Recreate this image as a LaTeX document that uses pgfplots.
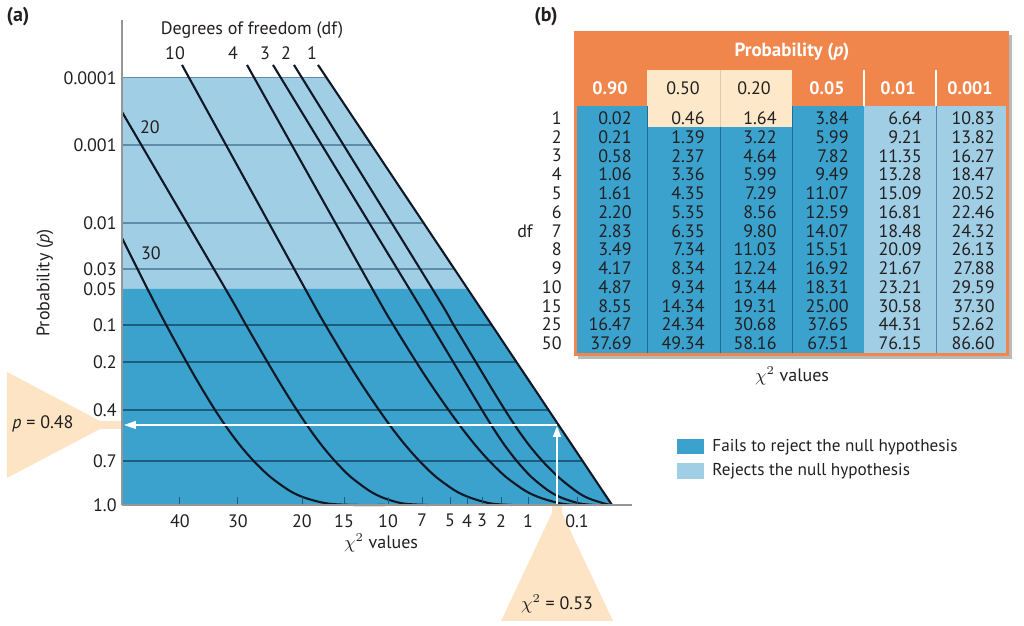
\documentclass[border=0pt]{standalone}
\usepackage{pgfplots}
\pgfplotsset{compat=1.18}
\usepackage{pgfplotstable}
\usepackage{fontspec}
\setmainfont{PT Sans}
\usetikzlibrary{arrows.meta}

\definecolor{dkblue}{RGB}{58,162,204}
\definecolor{ltblue}{RGB}{160,206,229}
\definecolor{gridlt}{RGB}{95,140,168}
\definecolor{griddk}{RGB}{28,92,126}
\definecolor{curve}{RGB}{16,24,38}
\definecolor{orng}{RGB}{241,134,76}
\definecolor{cream}{RGB}{253,232,202}
\definecolor{peach}{RGB}{252,228,196}
\definecolor{txt}{RGB}{35,31,32}
\definecolor{axgray}{RGB}{150,150,150}
\definecolor{sepdk}{RGB}{30,110,150}
\definecolor{seplt}{RGB}{80,140,175}
\definecolor{shadow}{RGB}{185,185,185}
\definecolor{creamsep}{RGB}{232,200,165}

\newcommand\fs[1]{\fontsize{#1}{#1}\selectfont}

\pgfplotstableread{
df p90 p50 p20 p05 p01 p001
1 0.02 0.46 1.64 3.84 6.64 10.83
2 0.21 1.39 3.22 5.99 9.21 13.82
3 0.58 2.37 4.64 7.82 11.35 16.27
4 1.06 3.36 5.99 9.49 13.28 18.47
5 1.61 4.35 7.29 11.07 15.09 20.52
6 2.20 5.35 8.56 12.59 16.81 22.46
7 2.83 6.35 9.80 14.07 18.48 24.32
8 3.49 7.34 11.03 15.51 20.09 26.13
9 4.17 8.34 12.24 16.92 21.67 27.88
10 4.87 9.34 13.44 18.31 23.21 29.59
15 8.55 14.34 19.31 25.00 30.58 37.30
25 16.47 24.34 30.68 37.65 44.31 52.62
50 37.69 49.34 58.16 67.51 76.15 86.60
}\chitable

\pgfplotsset{
  tabnum/.style={draw=none, mark=none, nodes near coords, point meta=explicit symbolic,
    every node near coord/.append style={anchor=east, inner sep=0pt, font=\fs{9}, text=txt}},
  dfcurve/.style={curve, line width=1.05pt, smooth, tension=0.5},
}

\begin{document}
\begin{tikzpicture}[font=\fs{9}, text=txt]
\path[use as bounding box] (0,0) rectangle (512pt,313pt);

% ---------- overlay axis: whole canvas in pixel units ----------
\begin{axis}[at={(0pt,0pt)}, anchor=south west, scale only axis,
  width=512pt, height=313pt, xmin=0, xmax=1024, ymin=-626, ymax=0,
  hide axis, clip=false]

  % peach pointers
  \fill[peach] (7,-372) -- (100,-421) -- (124,-421) -- (124,-429) -- (100,-429) -- (7,-478) -- cycle;
  \fill[peach] (552,-505) -- (562,-505) -- (562,-513) -- (613,-621) -- (501,-621) -- (552,-513) -- cycle;
  \node at (43,-424) {\textit{p} = 0.48};
  \node at (557,-604) {$\chi^2$ = 0.53};

  % axis descriptions of (a)
  \node[font=\fs{10}\bfseries] at (18,-17) {(a)};
  \node[font=\fs{10}\bfseries] at (546,-17) {(b)};
  \node[rotate=90] at (45,-283) {Probability (\textit{p})};
  \node at (381,-543) {$\chi^2$ values};

  % ---------- table (b) ----------
  \fill[shadow] (578,-35) rectangle (1012,-359);
  \fill[orng] (574,-31) rectangle (1009,-356);
  \fill[dkblue] (577,-106) rectangle (864,-353);
  \fill[ltblue] (864,-106) rectangle (1006,-353);
  \fill[cream] (647,-70) rectangle (792,-106);
  \fill[cream] (647,-106) rectangle (792,-127);
  \draw[creamsep, line width=0.5pt] (720,-70) -- (720,-127);
  \draw[white, line width=0.6pt] (864,-70) -- (864,-106);
  \draw[white, line width=0.6pt] (936,-70) -- (936,-106);
  \draw[sepdk, line width=0.5pt] (647,-106) -- (647,-353);
  \draw[sepdk, line width=0.5pt] (720,-127) -- (720,-353);
  \draw[sepdk, line width=0.5pt] (792,-106) -- (792,-353);
  \draw[seplt, line width=0.5pt] (936,-106) -- (936,-353);

  \node[font=\fs{9.5}\bfseries, text=white] at (792,-52) {Probability (\textit{p})};
  \node[font=\fs{9}\bfseries, text=white] at (610,-88) {0.90};
  \node[font=\fs{9}] at (683,-88) {0.50};
  \node[font=\fs{9}] at (754,-88) {0.20};
  \node[font=\fs{9}\bfseries, text=white] at (827,-88) {0.05};
  \node[font=\fs{9}\bfseries, text=white] at (898,-88) {0.01};
  \node[font=\fs{9}\bfseries, text=white] at (970,-88) {0.001};

  \addplot[tabnum] table[x expr=562, y expr={-118.3-18.75*\coordindex}, meta=df] {\chitable};
  \addplot[tabnum] table[x expr=632, y expr={-118.3-18.75*\coordindex}, meta=p90] {\chitable};
  \addplot[tabnum] table[x expr=705, y expr={-118.3-18.75*\coordindex}, meta=p50] {\chitable};
  \addplot[tabnum] table[x expr=777, y expr={-118.3-18.75*\coordindex}, meta=p20] {\chitable};
  \addplot[tabnum] table[x expr=849, y expr={-118.3-18.75*\coordindex}, meta=p05] {\chitable};
  \addplot[tabnum] table[x expr=922, y expr={-118.3-18.75*\coordindex}, meta=p01] {\chitable};
  \addplot[tabnum] table[x expr=995, y expr={-118.3-18.75*\coordindex}, meta=p001] {\chitable};

  \node at (525,-231) {df};
  \node at (792,-376) {$\chi^2$ values};

  % legend
  \fill[dkblue] (677,-439) rectangle (704,-454);
  \fill[ltblue] (677,-463) rectangle (704,-479);
  \node[anchor=west, inner sep=0pt, font=\fs{8.6}] at (712,-447) {Fails to reject the null hypothesis};
  \node[anchor=west, inner sep=0pt, font=\fs{8.6}] at (712,-471) {Rejects the null hypothesis};
\end{axis}

% ---------- chart (a) ----------
\begin{axis}[at={(61pt,60.5pt)}, anchor=south west, scale only axis,
  width=255pt, height=242.5pt,
  xmin=122, xmax=632, ymin=-505, ymax=-20,
  axis x line*=bottom, axis y line*=left, axis on top,
  axis line style={axgray, line width=0.75pt, -},
  clip=false,
  xtick={180,238,302,344,388,422,450,467,482,501,528,577},
  xticklabels={40,30,20,15,10,7,5,4,3,2,1,0.1},
  ytick={-78,-145,-223,-269,-289,-325,-362,-410,-461,-505},
  yticklabels={0.0001,0.001,0.01,0.03,0.05,0.1,0.2,0.4,0.7,1.0},
  tick align=inside, major tick length=4pt,
  xtick style={griddk, line width=0.5pt},
  ytick style={draw=none},
  tick label style={font=\fs{9}, text=txt},
  /pgf/number format/assume math mode=true,
  xticklabel style={inner sep=0pt, yshift=-4.5pt},
  yticklabel style={inner sep=0pt, xshift=-2.5pt},
]
  % regions
  \addplot[fill=ltblue, draw=none] coordinates {(122,-78) (327,-78) (467.8,-289) (122,-289)} -- cycle;
  \addplot[fill=dkblue, draw=none] coordinates {(122,-289) (467.8,-289) (612,-505) (122,-505)} -- cycle;
  % horizontal rules
  \addplot[gridlt, line width=0.6pt] coordinates {(122,-78) (327,-78)};
  \addplot[gridlt, line width=0.6pt] coordinates {(122,-145) (371.7,-145)};
  \addplot[gridlt, line width=0.6pt] coordinates {(122,-223) (423.8,-223)};
  \addplot[gridlt, line width=0.6pt] coordinates {(122,-269) (454.5,-269)};
  \addplot[griddk, line width=0.6pt] coordinates {(122,-325) (491.8,-325)};
  \addplot[griddk, line width=0.6pt] coordinates {(122,-362) (516.5,-362)};
  \addplot[griddk, line width=0.6pt] coordinates {(122,-410) (548.6,-410)};
  \addplot[griddk, line width=0.6pt] coordinates {(122,-461) (582.6,-461)};

  % df curves (df = 1, 2, 3, 4, 10, 20, 30)
  \addplot[curve, line width=1.05pt] coordinates {(318,-65) (612,-505)};
  \addplot[dfcurve] coordinates {(294,-65) (432.4,-289) (453.6,-325) (477.6,-365) (492.6,-390) (506.2,-412) (518.7,-431) (530.5,-447) (543.3,-462) (558.3,-477) (575.8,-491) (587.7,-498) (604.2,-503.5) (611.7,-505)};
  \addplot[dfcurve] coordinates {(273,-65) (409.4,-289) (431,-325) (455,-365) (470,-390) (483.2,-412) (495,-431) (505.9,-447) (517.6,-462) (531.4,-477) (548.9,-491) (562.2,-498) (579.8,-503.5) (595,-505)};
  \addplot[dfcurve] coordinates {(247,-65) (372.4,-289) (393.3,-325) (418.1,-365) (434.6,-390) (450,-412) (464,-431) (476.8,-447) (490.3,-462) (506,-477) (525.6,-491) (541,-498) (560.8,-503.5) (575.8,-505)};
  \addplot[dfcurve] coordinates {(182,-65) (305.2,-289) (325.4,-325) (349.4,-365) (365.4,-390) (380.4,-412) (394.1,-431) (406.9,-447) (420.4,-462) (436.1,-477) (455.7,-491) (471.1,-498) (490.9,-503.5) (512,-505)};
  \addplot[dfcurve] coordinates {(122,-112) (225.5,-289) (246,-325) (269.2,-365) (284.2,-390) (298.1,-412) (311,-431) (323,-447) (335.8,-462) (350.8,-477) (369.7,-491) (383.7,-498) (403,-503.5) (428,-505)};
  \addplot[dfcurve] coordinates {(122,-238) (147.5,-289) (166.2,-325) (188.2,-365) (202.7,-390) (216.3,-412) (229.2,-431) (241.4,-447) (254.6,-462) (270.4,-477) (290,-491) (305.4,-498) (327.4,-503.5) (355,-505) (385,-505)};

  % reading arrows
  \draw[white, line width=0.8pt, -{Triangle[width=4pt,length=6pt]}] (557,-425) -- (124,-425);
  \draw[white, line width=0.8pt, -{Triangle[width=4pt,length=5.5pt]}] (557,-505) -- (557,-426);

  % labels
  \node at (252,-30) {Degrees of freedom (df)};
  \node at (175,-53) {10};
  \node at (233,-53) {4};
  \node at (265,-53) {3};
  \node at (286,-53) {2};
  \node at (312,-53) {1};
  \node at (150,-127) {20};
  \node at (151,-253) {30};
\end{axis}
\end{tikzpicture}
\end{document}
